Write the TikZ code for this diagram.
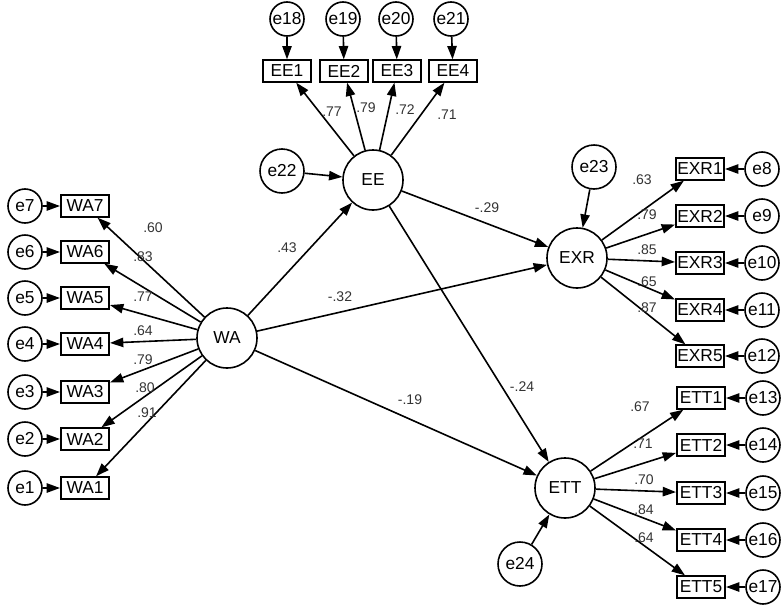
\documentclass[tikz,border=0pt]{standalone}
\usepackage{fontspec}
\setmainfont{Liberation Sans}
\usetikzlibrary{arrows.meta}
\begin{document}
\begin{tikzpicture}[x=0.75pt,y=-0.75pt,
 lat/.style={circle,draw,line width=1.2pt,minimum size=45pt,inner sep=0pt,font=\fontsize{13}{15}\selectfont},
 err/.style={circle,draw,line width=1.2pt,minimum size=25.5pt,inner sep=0pt,font=\fontsize{13}{15}\selectfont},
 errb/.style={err,minimum size=33pt},
 obs/.style={draw,line width=1.5pt,minimum width=36pt,minimum height=16pt,inner sep=1pt,font=\fontsize{13}{15}\selectfont},
 arr/.style={line width=1.2pt,-{Triangle[length=10pt,width=7pt]}},
 lab/.style={font=\fontsize{10.5}{12}\selectfont,text=black!80,inner sep=0pt}
]
\useasboundingbox (0,0) rectangle (784,614);
% latent variables
\node[lat] (EE) at (373,180) {EE};
\node[lat] (WA) at (227,338) {WA};
\node[lat] (EXR) at (577,258) {EXR};
\node[lat] (ETT) at (565,488) {ETT};
\node[errb] (e22) at (282,171) {e22};
\node[errb] (e23) at (594,167) {e23};
\node[errb] (e24) at (520,564) {e24};
% EE indicators
\node[obs] (EE1) at (287,71) {EE1};
\node[obs] (EE2) at (344,71) {EE2};
\node[obs] (EE3) at (397,71) {EE3};
\node[obs] (EE4) at (453,71) {EE4};
\node[err] (e18) at (287,19) {e18};
\node[err] (e19) at (343,19) {e19};
\node[err] (e20) at (396,19) {e20};
\node[err] (e21) at (451,19) {e21};
% WA indicators
\node[obs] (WA7) at (85,206) {WA7};
\node[obs] (WA6) at (85,252) {WA6};
\node[obs] (WA5) at (85,298) {WA5};
\node[obs] (WA4) at (85,344) {WA4};
\node[obs] (WA3) at (85,392) {WA3};
\node[obs] (WA2) at (85,439) {WA2};
\node[obs] (WA1) at (85,488) {WA1};
\node[err] (e7) at (25,206) {e7};
\node[err] (e6) at (25,252) {e6};
\node[err] (e5) at (25,298) {e5};
\node[err] (e4) at (25,344) {e4};
\node[err] (e3) at (25,392) {e3};
\node[err] (e2) at (25,439) {e2};
\node[err] (e1) at (25,488) {e1};
% EXR indicators
\node[obs] (EXR1) at (700,169) {EXR1};
\node[obs] (EXR2) at (700,216) {EXR2};
\node[obs] (EXR3) at (700,263) {EXR3};
\node[obs] (EXR4) at (700,310) {EXR4};
\node[obs] (EXR5) at (700,356) {EXR5};
\node[err] (e8) at (762,169) {e8};
\node[err] (e9) at (762,216) {e9};
\node[err] (e10) at (762,263) {e10};
\node[err] (e11) at (762,310) {e11};
\node[err] (e12) at (762,356) {e12};
% ETT indicators
\node[obs] (ETT1) at (701,398) {ETT1};
\node[obs] (ETT2) at (701,445) {ETT2};
\node[obs] (ETT3) at (701,493) {ETT3};
\node[obs] (ETT4) at (701,540) {ETT4};
\node[obs] (ETT5) at (701,587) {ETT5};
\node[err] (e13) at (763,398) {e13};
\node[err] (e14) at (763,445) {e14};
\node[err] (e15) at (763,493) {e15};
\node[err] (e16) at (763,540) {e16};
\node[err] (e17) at (763,587) {e17};
% error arrows
\foreach \e/\o in {e18/EE1,e19/EE2,e20/EE3,e21/EE4,
  e7/WA7,e6/WA6,e5/WA5,e4/WA4,e3/WA3,e2/WA2,e1/WA1,
  e8/EXR1,e9/EXR2,e10/EXR3,e11/EXR4,e12/EXR5,
  e13/ETT1,e14/ETT2,e15/ETT3,e16/ETT4,e17/ETT5,
  e22/EE,e23/EXR,e24/ETT}
  \draw[arr] (\e) -- (\o);
% loadings
\foreach \o in {EE1,EE2,EE3,EE4} \draw[arr] (EE) -- (\o);
\foreach \o in {WA1,WA2,WA3,WA4,WA5,WA6,WA7} \draw[arr] (WA) -- (\o);
\foreach \o in {EXR1,EXR2,EXR3,EXR4,EXR5} \draw[arr] (EXR) -- (\o);
\foreach \o in {ETT1,ETT2,ETT3,ETT4,ETT5} \draw[arr] (ETT) -- (\o);
% structural
\draw[arr] (WA) -- (EE);
\draw[arr] (WA) -- (EXR);
\draw[arr] (WA) -- (ETT);
\draw[arr] (EE) -- (EXR);
\draw[arr] (EE) -- (ETT);
% labels
\node[lab] (l1) at (332,112) {.77};
\node[lab] (l2) at (366,108) {.79};
\node[lab] (l3) at (405,110) {.72};
\node[lab] (l4) at (447,115) {.71};
\node[lab] (l5) at (153,228) {.60};
\node[lab] (l6) at (143,257) {.83};
\node[lab] (l7) at (143,297) {.77};
\node[lab] (l8) at (143,331) {.64};
\node[lab] (l9) at (143,360) {.79};
\node[lab] (l10) at (145,388) {.80};
\node[lab] (l11) at (147,413) {.91};
\node[lab] (l12) at (287,248) {.43};
\node[lab] (l13) at (340,297) {-.32};
\node[lab] (l14) at (487,208) {-.29};
\node[lab] (l15) at (410,400) {-.19};
\node[lab] (l16) at (522,387) {-.24};
\node[lab] (l17) at (642,180) {.63};
\node[lab] (l18) at (647,215) {.79};
\node[lab] (l19) at (647,250) {.85};
\node[lab] (l20) at (647,282) {.65};
\node[lab] (l21) at (647,308) {.87};
\node[lab] (l22) at (640,407) {.67};
\node[lab] (l23) at (643,444) {.71};
\node[lab] (l24) at (644,480) {.70};
\node[lab] (l25) at (644,510) {.84};
\node[lab] (l26) at (644,538) {.64};
\end{tikzpicture}
\end{document}
